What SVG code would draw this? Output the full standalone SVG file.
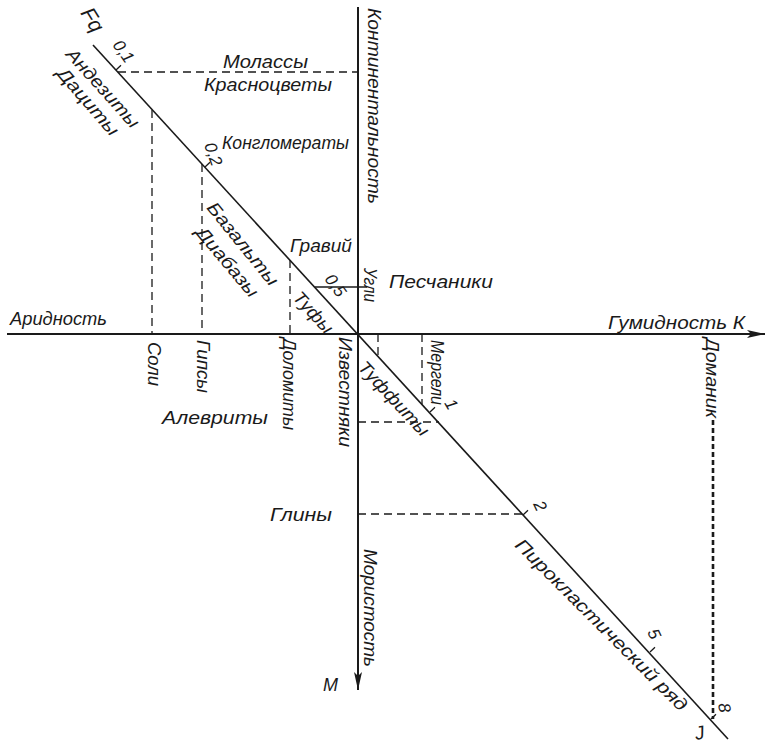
<svg xmlns="http://www.w3.org/2000/svg" width="773" height="750" viewBox="0 0 773 750">
<style>
.t{font-family:"Liberation Sans Narrow","Liberation Sans",Arial,sans-serif;font-style:italic;font-size:18px;fill:#1a1a1a}
.n{font-family:"Liberation Sans Narrow","Liberation Sans",Arial,sans-serif;font-style:italic;font-size:17px;fill:#1a1a1a}
.ax{stroke:#1a1a1a;stroke-width:2;fill:none}
.dg{stroke:#1a1a1a;stroke-width:1.6;fill:none}
.dash{stroke:#1a1a1a;stroke-width:1.3;stroke-dasharray:8 5;fill:none}
.dom{stroke:#1a1a1a;stroke-width:2.6;stroke-dasharray:5 3;fill:none}
.tk{stroke:#1a1a1a;stroke-width:1.3;fill:none}
</style>
<defs>
<marker id="arr" markerWidth="20" markerHeight="10" refX="18" refY="5" orient="auto" markerUnits="userSpaceOnUse">
<path d="M0,1 L18,5 L0,9 L4,5 Z" fill="#1a1a1a"/>
</marker>
</defs>
<rect width="773" height="750" fill="#ffffff"/>

<g id="connectors">
<line class="ax" x1="7" y1="334" x2="765" y2="334" marker-end="url(#arr)"/>
<line class="ax" x1="358" y1="7" x2="358" y2="690" marker-end="url(#arr)"/>
<line class="dg" x1="93" y1="45" x2="728" y2="739"/>
<line class="dash" x1="118" y1="72" x2="358" y2="72"/>
<line class="dash" x1="152" y1="110" x2="152" y2="334"/>
<line class="dash" x1="202" y1="164" x2="202" y2="334"/>
<line class="dash" x1="290" y1="260" x2="290" y2="334"/>
<line class="tk" x1="315" y1="287" x2="367" y2="287"/>
<line class="dash" x1="378" y1="334" x2="378" y2="356"/>
<line class="dash" x1="422" y1="334" x2="422" y2="404"/>
<line class="dash" x1="358" y1="422" x2="439" y2="422"/>
<line class="dash" x1="358" y1="514" x2="522" y2="514"/>
<line class="dom" x1="713" y1="420" x2="713" y2="719"/>
<path class="tk" d="M116,70 l5,-4.7 M205,167 l5,-4.7 M430,412 l5,-4.7 M523,515 l5,-4.7 M650,652 l5,-4.7 M711,719 l5,-4.7"/>
</g>

<g id="n-fq"><text class="t" style="font-size:21px" transform="translate(80,13) rotate(58)">Fq</text></g>
<g id="n-01"><text class="n" transform="translate(112,45) rotate(55)">0,1</text></g>
<g id="n-02"><text class="n" transform="translate(204,145) rotate(70)">0,2</text></g>
<g id="n-05"><text class="n" transform="translate(324,279) rotate(55)">0,5</text></g>
<g id="n-1"><text class="n" transform="translate(444,403) rotate(60)">1</text></g>
<g id="n-2"><text class="n" transform="translate(533,504) rotate(65)">2</text></g>
<g id="n-5"><text class="n" transform="translate(647,632) rotate(65)">5</text></g>
<g id="n-8"><text class="n" transform="translate(718,704) rotate(80)">8</text></g>
<g id="n-j"><text class="n" style="font-size:19px" transform="translate(696,740) rotate(-10)">J</text></g>

<g id="n-andezity"><text class="t" transform="translate(65,55) rotate(48)" textLength="100" lengthAdjust="spacingAndGlyphs">Андезиты</text></g>
<g id="n-dacity"><text class="t" transform="translate(56,74) rotate(49)" textLength="84" lengthAdjust="spacingAndGlyphs">Дациты</text></g>
<g id="n-molassy"><text class="t" x="223" y="68" textLength="85" lengthAdjust="spacingAndGlyphs">Молассы</text></g>
<g id="n-krasnocvety"><text class="t" x="204" y="91" textLength="128" lengthAdjust="spacingAndGlyphs">Красноцветы</text></g>
<g id="n-konglomeraty"><text class="t" x="222" y="149" textLength="127" lengthAdjust="spacingAndGlyphs">Конгломераты</text></g>
<g id="n-kontinentalnost"><text class="t" transform="translate(368,8) rotate(90)" textLength="196" lengthAdjust="spacingAndGlyphs">Континентальность</text></g>
<g id="n-bazalty"><text class="t" transform="translate(206,208) rotate(51)" textLength="102" lengthAdjust="spacingAndGlyphs">Базальты</text></g>
<g id="n-diabazy"><text class="t" transform="translate(195,233) rotate(50)" textLength="86" lengthAdjust="spacingAndGlyphs">Диабазы</text></g>
<g id="n-gravij"><text class="t" x="290" y="252" textLength="62" lengthAdjust="spacingAndGlyphs">Гравий</text></g>
<g id="n-tufy"><text class="t" transform="translate(292,298) rotate(48)" textLength="50" lengthAdjust="spacingAndGlyphs">Туфы</text></g>
<g id="n-ugli"><text class="t" transform="translate(364,268) rotate(90)" textLength="34" lengthAdjust="spacingAndGlyphs">Угли</text></g>
<g id="n-peschaniki"><text class="t" x="389" y="288" textLength="104" lengthAdjust="spacingAndGlyphs">Песчаники</text></g>
<g id="n-aridnost"><text class="t" x="10" y="325" textLength="97" lengthAdjust="spacingAndGlyphs">Аридность</text></g>
<g id="n-gumidnost"><text class="t" x="608" y="329" textLength="137" lengthAdjust="spacingAndGlyphs">Гумидность К</text></g>
<g id="n-soli"><text class="t" transform="translate(148,342) rotate(90)" textLength="44" lengthAdjust="spacingAndGlyphs">Соли</text></g>
<g id="n-gipsy"><text class="t" transform="translate(197,340) rotate(90)" textLength="53" lengthAdjust="spacingAndGlyphs">Гипсы</text></g>
<g id="n-dolomity"><text class="t" transform="translate(283,338) rotate(90)" textLength="92" lengthAdjust="spacingAndGlyphs">Доломиты</text></g>
<g id="n-izvestnyaki"><text class="t" transform="translate(339,337) rotate(90)" textLength="110" lengthAdjust="spacingAndGlyphs">Известняки</text></g>
<g id="n-tuffity"><text class="t" transform="translate(357,368) rotate(47)" textLength="95" lengthAdjust="spacingAndGlyphs">Туффиты</text></g>
<g id="n-mergeli"><text class="t" transform="translate(431,340) rotate(90)" textLength="65" lengthAdjust="spacingAndGlyphs">Мергели</text></g>
<g id="n-domanik"><text class="t" transform="translate(706,338) rotate(90)" textLength="80" lengthAdjust="spacingAndGlyphs">Доманик</text></g>
<g id="n-alevrity"><text class="t" x="162" y="424" textLength="106" lengthAdjust="spacingAndGlyphs">Алевриты</text></g>
<g id="n-gliny"><text class="t" x="270" y="521" textLength="62" lengthAdjust="spacingAndGlyphs">Глины</text></g>
<g id="n-piroklast"><text class="t" transform="translate(514,546) rotate(45)" textLength="235" lengthAdjust="spacingAndGlyphs">Пирокластический ряд</text></g>
<g id="n-moristost"><text class="t" transform="translate(364,549) rotate(90)" textLength="118" lengthAdjust="spacingAndGlyphs">Мористость</text></g>
<g id="n-m"><text class="t" x="323" y="691">М</text></g>
</svg>
